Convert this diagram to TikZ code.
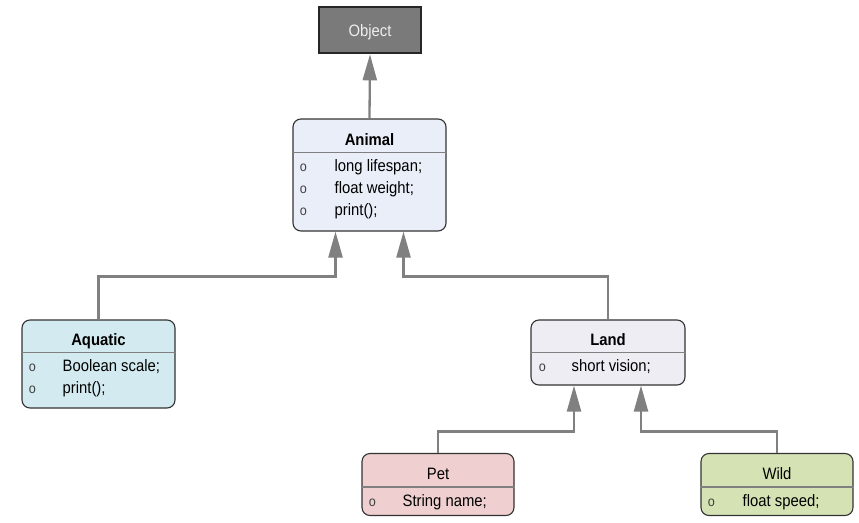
\documentclass[tikz,border=0pt]{standalone}
\usepackage{fontspec}
\setmainfont{Liberation Sans}[FakeStretch=0.9]
\usetikzlibrary{arrows.meta,calc}
\definecolor{objfill}{HTML}{7A7A7A}
\definecolor{objline}{HTML}{262626}
\definecolor{objtext}{HTML}{EEEEEE}
\definecolor{animalfill}{HTML}{E9EEF8}
\definecolor{aquafill}{HTML}{D3EAF0}
\definecolor{landfill}{HTML}{EFEDF4}
\definecolor{petfill}{HTML}{EFCFCF}
\definecolor{wildfill}{HTML}{D5E3B4}
\definecolor{boxline}{HTML}{333333}
\definecolor{sepgray}{HTML}{808080}
\definecolor{conn}{HTML}{808080}
\definecolor{bul}{HTML}{404040}
\begin{document}
\begin{tikzpicture}[x=1pt,y=-1pt,
  classbox/.style={draw=boxline, line width=1.1pt, rounded corners=8pt, inner sep=0pt},
  objbox/.style={draw=objline, line width=2.6pt, fill=objfill, inner sep=0pt, minimum width=102pt, minimum height=46pt},
  sepline/.style={draw=sepgray, line width=1.2pt},
  titlebold/.style={font=\fontsize{16.5}{19}\selectfont\bfseries, inner sep=0pt, anchor=base},
  titleplain/.style={font=\fontsize{16.5}{19}\selectfont, inner sep=0pt, anchor=base},
  rowtext/.style={font=\fontsize{16.5}{19}\selectfont, inner sep=0pt, anchor=base west},
  bullet/.style={font=\fontsize{14}{16}\selectfont, text=bul, inner sep=0pt, anchor=base},
  inh/.style={draw=conn, line width=2.3pt, -{Triangle[length=26pt,width=14pt,fill=conn]}}
]
\useasboundingbox (0,0) rectangle (859,522);

% Object
\node[objbox] (object) at (370,30) {};
\node[titleplain, text=objtext] (objecttitle) at (370,36) {Object};

% Animal
\node[classbox, fill=animalfill, minimum width=153pt, minimum height=112pt] (animal) at (369.5,175) {};
\draw[sepline] ($(animal.north west)+(0,34)$) -- ($(animal.north east)+(0,34)$);
\node[titlebold] (animaltitle) at ($(animal.north)+(0,27)$) {Animal};
\node[bullet] (animalb1) at ($(animal.north west)+(11,53)$) {o};
\node[rowtext] (animalr1) at ($(animal.north west)+(42,53)$) {long lifespan;};
\node[bullet] (animalb2) at ($(animal.north west)+(11,75)$) {o};
\node[rowtext] (animalr2) at ($(animal.north west)+(42,75)$) {float weight;};
\node[bullet] (animalb3) at ($(animal.north west)+(11,97)$) {o};
\node[rowtext] (animalr3) at ($(animal.north west)+(42,97)$) {print();};

% Aquatic
\node[classbox, fill=aquafill, minimum width=153pt, minimum height=88pt] (aquatic) at (98.5,364) {};
\draw[sepline] ($(aquatic.north west)+(0,33)$) -- ($(aquatic.north east)+(0,33)$);
\node[titlebold] (aquatictitle) at ($(aquatic.north)+(0,26)$) {Aquatic};
\node[bullet] (aquaticb1) at ($(aquatic.north west)+(11,52)$) {o};
\node[rowtext] (aquaticr1) at ($(aquatic.north west)+(41,52)$) {Boolean scale;};
\node[bullet] (aquaticb2) at ($(aquatic.north west)+(11,74)$) {o};
\node[rowtext] (aquaticr2) at ($(aquatic.north west)+(41,74)$) {print();};

% Land
\node[classbox, fill=landfill, minimum width=154pt, minimum height=65pt] (land) at (608,352.5) {};
\draw[sepline] ($(land.north west)+(0,33)$) -- ($(land.north east)+(0,33)$);
\node[titlebold] (landtitle) at ($(land.north)+(0,26)$) {Land};
\node[bullet] (landb1) at ($(land.north west)+(12,52)$) {o};
\node[rowtext] (landr1) at ($(land.north west)+(41,52)$) {short vision;};

% Pet
\node[classbox, fill=petfill, minimum width=152pt, minimum height=62pt] (pet) at (438,484.5) {};
\draw[sepline] ($(pet.north west)+(0,34)$) -- ($(pet.north east)+(0,34)$);
\node[titleplain] (pettitle) at ($(pet.north)+(0,27)$) {Pet};
\node[bullet] (petb1) at ($(pet.north west)+(11,54)$) {o};
\node[rowtext] (petr1) at ($(pet.north west)+(41,54)$) {String name;};

% Wild
\node[classbox, fill=wildfill, minimum width=152pt, minimum height=62pt] (wild) at (777,484.5) {};
\draw[sepline] ($(wild.north west)+(0,34)$) -- ($(wild.north east)+(0,34)$);
\node[titleplain] (wildtitle) at ($(wild.north)+(0,27)$) {Wild};
\node[bullet] (wildb1) at ($(wild.north west)+(11,54)$) {o};
\node[rowtext] (wildr1) at ($(wild.north west)+(42,54)$) {float speed;};

% Connectors
\draw[inh] (animal.north) -- (object.south);
\draw[inh] (aquatic.north) |- ($(animal.south)+(-34,45)$) -- ($(animal.south)+(-34,0)$);
\draw[inh] (land.north) |- ($(animal.south)+(34,45)$) -- ($(animal.south)+(34,0)$);
\draw[inh] (pet.north) |- ($(land.south)+(-34,46)$) -- ($(land.south)+(-34,0)$);
\draw[inh] (wild.north) |- ($(land.south)+(33,46)$) -- ($(land.south)+(33,0)$);
\end{tikzpicture}
\end{document}
